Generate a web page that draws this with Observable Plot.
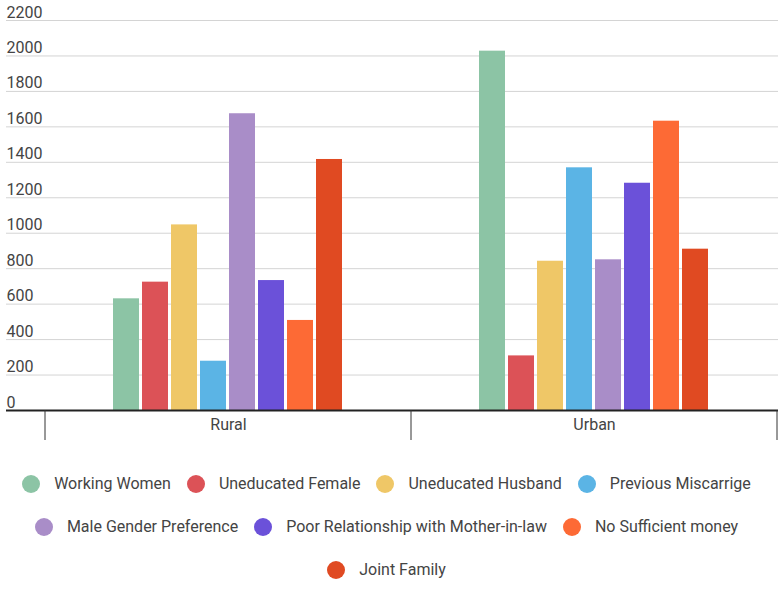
<!DOCTYPE html>
<html>
<head>
<meta charset="utf-8">
<script src="https://cdn.jsdelivr.net/npm/d3@7"></script>
<script src="https://cdn.jsdelivr.net/npm/@observablehq/plot@0.6"></script>
<style>
  html, body { margin: 0; padding: 0; background: #fff; }
  body { font-family: Roboto, "Noto Sans", sans-serif; width: 783px; }
  #chart svg { display: block; }
  #legend { padding-top: 7px; padding-right: 10px; }
  .row { display: flex; justify-content: center; align-items: center; height: 43px; }
  .item { display: flex; align-items: center; margin: 0 8px; font-size: 16px; color: #444; white-space: nowrap; }
  .dot { width: 18px; height: 18px; border-radius: 50%; margin-right: 14px; flex: none; }
</style>
</head>
<body>
<div id="chart"></div>
<div id="legend"></div>
<script>
const groups = ["Rural", "Urban"];
const reasons = [
  "Working Women",
  "Uneducated Female",
  "Uneducated Husband",
  "Previous Miscarrige",
  "Male Gender Preference",
  "Poor Relationship with Mother-in-law",
  "No Sufficient money",
  "Joint Family"
];
const ruralValues = [630, 724, 1047, 278, 1674, 733, 508, 1416];
const urbanValues = [2027, 308, 842, 1369, 850, 1282, 1632, 910];
const colors = ["#8cc4a5", "#dc5257", "#efc767", "#5bb4e5", "#a98dc8", "#6b51d9", "#fd6a35", "#e04a22"];
const yTicks = [0, 200, 400, 600, 800, 1000, 1200, 1400, 1600, 1800, 2000, 2200];
const legendRows = [4, 3, 1];

const data = [];
reasons.forEach((r, i) => {
  data.push({group: groups[0], reason: r, value: ruralValues[i]});
  data.push({group: groups[1], reason: r, value: urbanValues[i]});
});

const first = () => groups[0];
const last = () => groups[groups.length - 1];

const chart = Plot.plot({
  width: 783,
  height: 455,
  marginLeft: 44,
  marginRight: 6,
  marginTop: 20,
  marginBottom: 45,
  style: {fontFamily: "Roboto, 'Noto Sans', sans-serif", fontSize: "16px", color: "#444", background: "#fff"},
  fx: {domain: groups, padding: 0, label: null, axis: "bottom", tickSize: 0, tickPadding: 8},
  x: {domain: reasons, paddingInner: 0.09, paddingOuter: 2.33, axis: null},
  y: {domain: [0, 2200], axis: null},
  color: {domain: reasons, range: colors},
  marks: [
    Plot.ruleY(yTicks.slice(1), {y: d => d, fx: first, stroke: "#d4d4d4", strokeWidth: 1, insetLeft: -39}),
    Plot.ruleY(yTicks.slice(1), {y: d => d, fx: last, stroke: "#d4d4d4", strokeWidth: 1, insetRight: -1}),
    Plot.text(yTicks, {
      y: d => d,
      text: d => String(d),
      fx: first,
      frameAnchor: "left",
      textAnchor: "start",
      lineAnchor: "bottom",
      dx: -39,
      dy: -3,
      fill: "#444",
      fontSize: 16
    }),
    Plot.barY(data, {fx: "group", x: "reason", y: "value", fill: "reason"}),
    Plot.ruleY([0], {fx: first, stroke: "#222", strokeWidth: 2, insetLeft: -39}),
    Plot.ruleY([0], {fx: last, stroke: "#222", strokeWidth: 2, insetRight: -1})
  ]
});

// group boundary ticks, positioned with the plot's own scales
const fxs = chart.scale("fx");
const ys = chart.scale("y");
const y0 = ys.apply(0);
const edges = groups.map(g => fxs.apply(g));
edges.push(fxs.apply(groups[groups.length - 1]) + fxs.bandwidth);
d3.select(chart).append("g")
  .selectAll("line")
  .data(edges)
  .join("line")
  .attr("x1", d => d).attr("x2", d => d)
  .attr("y1", y0).attr("y2", y0 + 30)
  .attr("stroke", "#333").attr("stroke-width", 1);

document.getElementById("chart").appendChild(chart);

// legend
const legend = document.getElementById("legend");
let k = 0;
legendRows.forEach(n => {
  const row = document.createElement("div");
  row.className = "row";
  for (let j = 0; j < n; j++, k++) {
    const item = document.createElement("div");
    item.className = "item";
    const dot = document.createElement("span");
    dot.className = "dot";
    dot.style.background = colors[k];
    const label = document.createElement("span");
    label.textContent = reasons[k];
    item.appendChild(dot);
    item.appendChild(label);
    row.appendChild(item);
  }
  legend.appendChild(row);
});
</script>
</body>
</html>
